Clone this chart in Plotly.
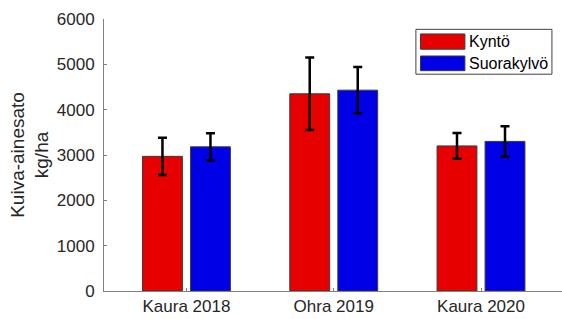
import plotly.graph_objects as go

categories = ["Kaura 2018", "Ohra 2019", "Kaura 2020"]
series_names = ["Kyntö", "Suorakylvö"]
kynto = [2970, 4350, 3200]
kynto_err = [410, 800, 285]
suora = [3180, 4430, 3300]
suora_err = [300, 510, 335]
y_ticks = [0, 1000, 2000, 3000, 4000, 5000, 6000]

RED = "#e60000"
BLUE = "#0000e6"
TXT = "#262626"
FONT = "Liberation Sans, Arial, sans-serif"

fig = go.Figure()
for name, vals, errs, col in [(series_names[0], kynto, kynto_err, RED),
                              (series_names[1], suora, suora_err, BLUE)]:
    fig.add_trace(go.Bar(
        x=categories, y=vals, name=name,
        marker=dict(color=col, line=dict(color="#3a3a3a", width=1)),
        error_y=dict(type="data", array=errs, visible=True,
                     color="black", thickness=2.5, width=4.5),
        showlegend=False,
    ))

fig.update_layout(
    width=562, height=319,
    margin=dict(l=104, r=0, t=19, b=28),
    paper_bgcolor="white", plot_bgcolor="white",
    barmode="group", bargap=0.348, bargroupgap=0.17,
    font=dict(family=FONT, size=17, color=TXT),
    xaxis=dict(
        type="category", range=[-0.56, 2.55],
        showline=True, linecolor="#808080", linewidth=1,
        ticks="inside", ticklen=3, tickcolor="#808080",
        showgrid=False, zeroline=False,
        tickfont=dict(size=17, color=TXT),
    ),
    yaxis=dict(
        range=[0, 6000], tickvals=y_ticks,
        showline=True, linecolor="#808080", linewidth=1,
        ticks="inside", ticklen=3, tickcolor="#808080",
        showgrid=False, zeroline=False,
        tickfont=dict(size=17, color=TXT),
        ticklabelstandoff=5,
    ),
)

# y-axis title (two lines)
fig.add_annotation(
    text="Kuiva-ainesato<br>kg/ha", xref="paper", yref="paper",
    x=-0.162, y=0.5, xanchor="center", yanchor="middle",
    textangle=-90, showarrow=False,
    font=dict(family=FONT, size=19, color=TXT),
)

# legend box
fig.add_shape(type="rect", xref="paper", yref="paper",
              x0=0.681, x1=0.978, y0=0.797, y1=0.962,
              line=dict(color="#404040", width=1), fillcolor="white")
sw_y = [(0.889, 0.945), (0.810, 0.864)]
for (y0, y1), col, name in zip(sw_y, [RED, BLUE], series_names):
    fig.add_shape(type="rect", xref="paper", yref="paper",
                  x0=0.691, x1=0.788, y0=y0, y1=y1,
                  line=dict(color="#3a3a3a", width=1), fillcolor=col)
    fig.add_annotation(text=name, xref="paper", yref="paper",
                       x=0.793, y=(y0 + y1) / 2, xanchor="left", yanchor="middle",
                       showarrow=False,
                       font=dict(family=FONT, size=16, color="black"))

fig.write_html("out.html",
               config={"displayModeBar": False},
               post_script="document.body.style.margin='0px';document.body.style.overflow='hidden';")
